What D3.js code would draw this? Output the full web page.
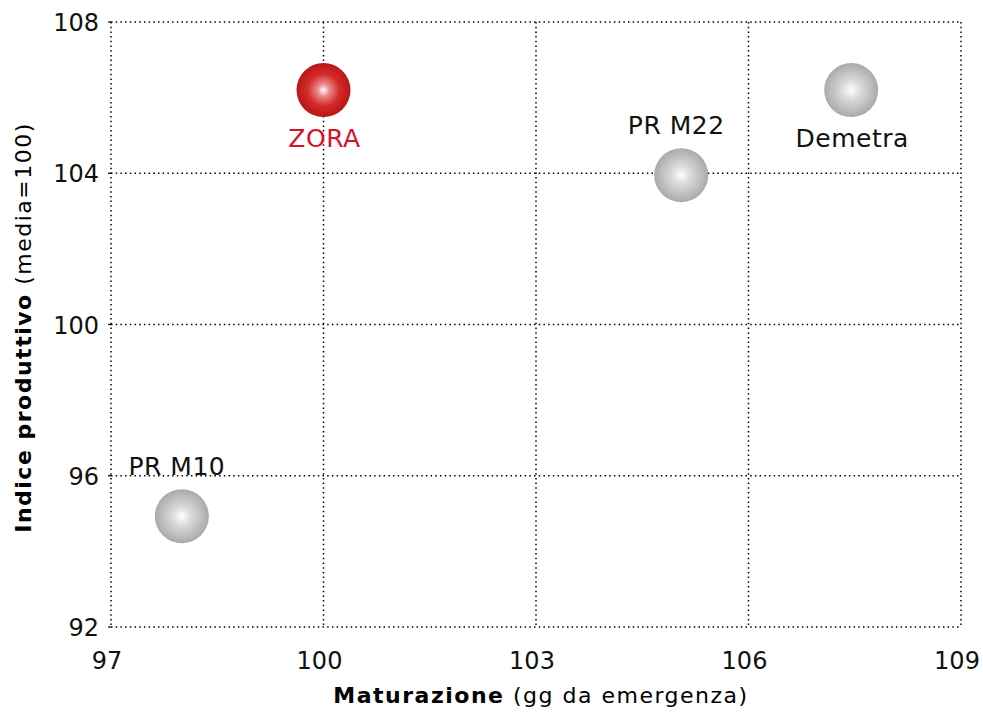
<!DOCTYPE html>
<html><head><meta charset="utf-8">
<script src="https://cdn.jsdelivr.net/npm/d3@7"></script>
<style>body{margin:0;background:#fff}svg{display:block}text{font-family:"DejaVu Sans",sans-serif}</style>
</head><body><svg id="c" width="983" height="713"></svg>
<script>
const names = ["ZORA", "PR M22", "Demetra", "PR M10"];
const maturazione = [100.0, 105.05, 107.45, 98.0];
const indice = [106.2, 103.95, 106.2, 94.93];
const highlight = [true, false, false, false];
const labelPos = ["below", "above", "below", "above"];
const xTicks = [97, 100, 103, 106, 109];
const yTicks = [92, 96, 100, 104, 108];

const svg = d3.select("#c");
const x = d3.scaleLinear().domain([97, 109]).range([111, 961]);
const y = d3.scaleLinear().domain([92, 108]).range([627, 22]);

const defs = svg.append("defs");
const gr = defs.append("radialGradient").attr("id","gRed").attr("cx","50%").attr("cy","50%").attr("r","50%");
gr.append("stop").attr("offset","0%").attr("stop-color","#ffffff");
gr.append("stop").attr("offset","22%").attr("stop-color","#ea8c8c");
gr.append("stop").attr("offset","60%").attr("stop-color","#d42a2a");
gr.append("stop").attr("offset","100%").attr("stop-color","#bb1515");
const gg = defs.append("radialGradient").attr("id","gGray").attr("cx","50%").attr("cy","50%").attr("r","50%");
gg.append("stop").attr("offset","0%").attr("stop-color","#ffffff");
gg.append("stop").attr("offset","35%").attr("stop-color","#dadada");
gg.append("stop").attr("offset","100%").attr("stop-color","#aaaaaa");

// grid
const grid = svg.append("g").attr("stroke","#000").attr("stroke-width",1.5).attr("stroke-dasharray","1.5,3.2");
grid.selectAll(".gx").data(xTicks).join("line")
  .attr("x1",d=>x(d)).attr("x2",d=>x(d)).attr("y1",y(108)).attr("y2",y(92));
grid.selectAll(".gy").data(yTicks).join("line")
  .attr("x1",x(97)).attr("x2",x(109)).attr("y1",d=>y(d)).attr("y2",d=>y(d));
svg.append("g").selectAll("line").data(yTicks).join("line")
  .attr("x1",x(97)-3).attr("x2",x(97)).attr("y1",d=>y(d)).attr("y2",d=>y(d)).attr("stroke","#000").attr("stroke-width",1.2);

// tick labels
svg.append("g").selectAll("text").data(yTicks).join("text")
  .attr("x",x(97)-12).attr("y",d=>y(d)+9).attr("text-anchor","end")
  .attr("font-size",24).attr("fill","#111").text(d=>d);
svg.append("g").selectAll("text").data(xTicks).join("text")
  .attr("x",d=>x(d)-4).attr("y",669).attr("text-anchor","middle")
  .attr("font-size",24).attr("fill","#111").text(d=>d);

// axis titles
const xt = svg.append("text").attr("x",x(103)+5).attr("y",703).attr("text-anchor","middle").attr("font-size",22).attr("letter-spacing",1.5).attr("fill","#000");
xt.append("tspan").attr("font-weight","bold").text("Maturazione");
xt.append("tspan").text(" (gg da emergenza)");
const yt = svg.append("text").attr("transform",`translate(31,${y(100)+3}) rotate(-90)`).attr("text-anchor","middle").attr("font-size",22).attr("letter-spacing",1.5).attr("fill","#000");
yt.append("tspan").attr("font-weight","bold").text("Indice produttivo");
yt.append("tspan").text(" (media=100)");

// bubbles
const data = names.map((n,i)=>({n, mx:maturazione[i], iy:indice[i], hl:highlight[i], pos:labelPos[i]}));
svg.append("g").selectAll("circle").data(data).join("circle")
  .attr("cx",d=>x(d.mx)).attr("cy",d=>y(d.iy)).attr("r",27)
  .attr("fill",d=>d.hl?"url(#gRed)":"url(#gGray)");
svg.append("g").selectAll("text").data(data).join("text")
  .attr("x",d=>x(d.mx)+(d.pos==="below"?1:-5)).attr("y",d=>y(d.iy)+(d.pos==="below"?57:-41))
  .attr("text-anchor","middle").attr("font-size",25).attr("letter-spacing",0.5)
  .attr("fill",d=>d.hl?"#d8102a":"#111").text(d=>d.n);
</script></body></html>
